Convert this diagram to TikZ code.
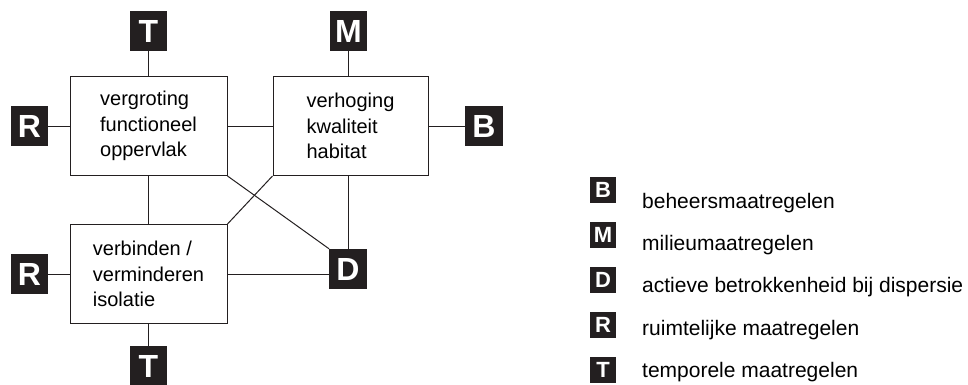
\documentclass[tikz,border=0pt]{standalone}
\usepackage{fontspec}
\setmainfont{Liberation Sans}
\definecolor{donker}{HTML}{231F20}
\tikzset{
  doel/.style={draw=donker, line width=1pt, minimum width=157pt, minimum height=99pt,
    inner sep=0pt, align=left, font=\fontsize{20}{25.5}\selectfont},
  maat/.style={fill=donker, text=white, minimum width=37.5pt, minimum height=40pt,
    inner sep=0pt, font=\fontsize{32}{32}\selectfont\bfseries},
  legmaat/.style={fill=donker, text=white, minimum size=26pt, inner sep=0pt,
    font=\fontsize{22}{22}\selectfont\bfseries},
  legtekst/.style={anchor=base west, inner sep=0pt, font=\fontsize{21}{21}\selectfont},
  lijn/.style={draw=donker, line width=1pt}
}
\begin{document}
\begin{tikzpicture}[x=1pt,y=-1pt]
  \useasboundingbox (0,0) rectangle (968,385);
  % doelen
  \node[doel] (vergroting) at (148.5,126) {vergroting\\functioneel\\oppervlak};
  \node[doel, minimum width=155pt] (verhoging) at (350.5,126) {verhoging\\kwaliteit\\habitat};
  \node[doel] (verbinden) at (148.5,274) {verbinden /\\verminderen\\isolatie};
  % maatregelen
  \node[maat] (T1) at (148.5,31) {T};
  \node[maat] (M1) at (348.5,31) {M};
  \node[maat] (R1) at (29.5,126) {R};
  \node[maat] (B1) at (484,126) {B};
  \node[maat] (R2) at (29.5,274) {R};
  \node[maat] (D1) at (348,269) {D};
  \node[maat] (T2) at (148.5,366) {T};
  % verbindingen
  \draw[lijn] (T1) -- (vergroting);
  \draw[lijn] (R1) -- (vergroting);
  \draw[lijn] (vergroting) -- (verhoging);
  \draw[lijn] (M1.south) -- (M1.south |- verhoging.north);
  \draw[lijn] (verhoging) -- (B1);
  \draw[lijn] (vergroting) -- (verbinden);
  \draw[lijn] (vergroting.south east) -- (D1.north west);
  \draw[lijn] (verhoging.south west) -- (verbinden.north east);
  \draw[lijn] (D1.north) -- (D1.north |- verhoging.south);
  \draw[lijn] (verbinden) -- (verbinden -| D1.west);
  \draw[lijn] (R2) -- (verbinden);
  \draw[lijn] (verbinden) -- (T2);
  % legenda
  \node[legmaat] (legB) at (603,189.5) {B};
  \node[legtekst] (tekstB) at (642,208) {beheersmaatregelen};
  \node[legmaat] (legM) at (603,234.5) {M};
  \node[legtekst] (tekstM) at (642,250) {milieumaatregelen};
  \node[legmaat] (legD) at (603,279.5) {D};
  \node[legtekst] (tekstD) at (642,292.5) {actieve betrokkenheid bij dispersie};
  \node[legmaat] (legR) at (603,324.5) {R};
  \node[legtekst] (tekstR) at (642,335) {ruimtelijke maatregelen};
  \node[legmaat] (legT) at (603,370) {T};
  \node[legtekst] (tekstT) at (642,377) {temporele maatregelen};
\end{tikzpicture}
\end{document}
